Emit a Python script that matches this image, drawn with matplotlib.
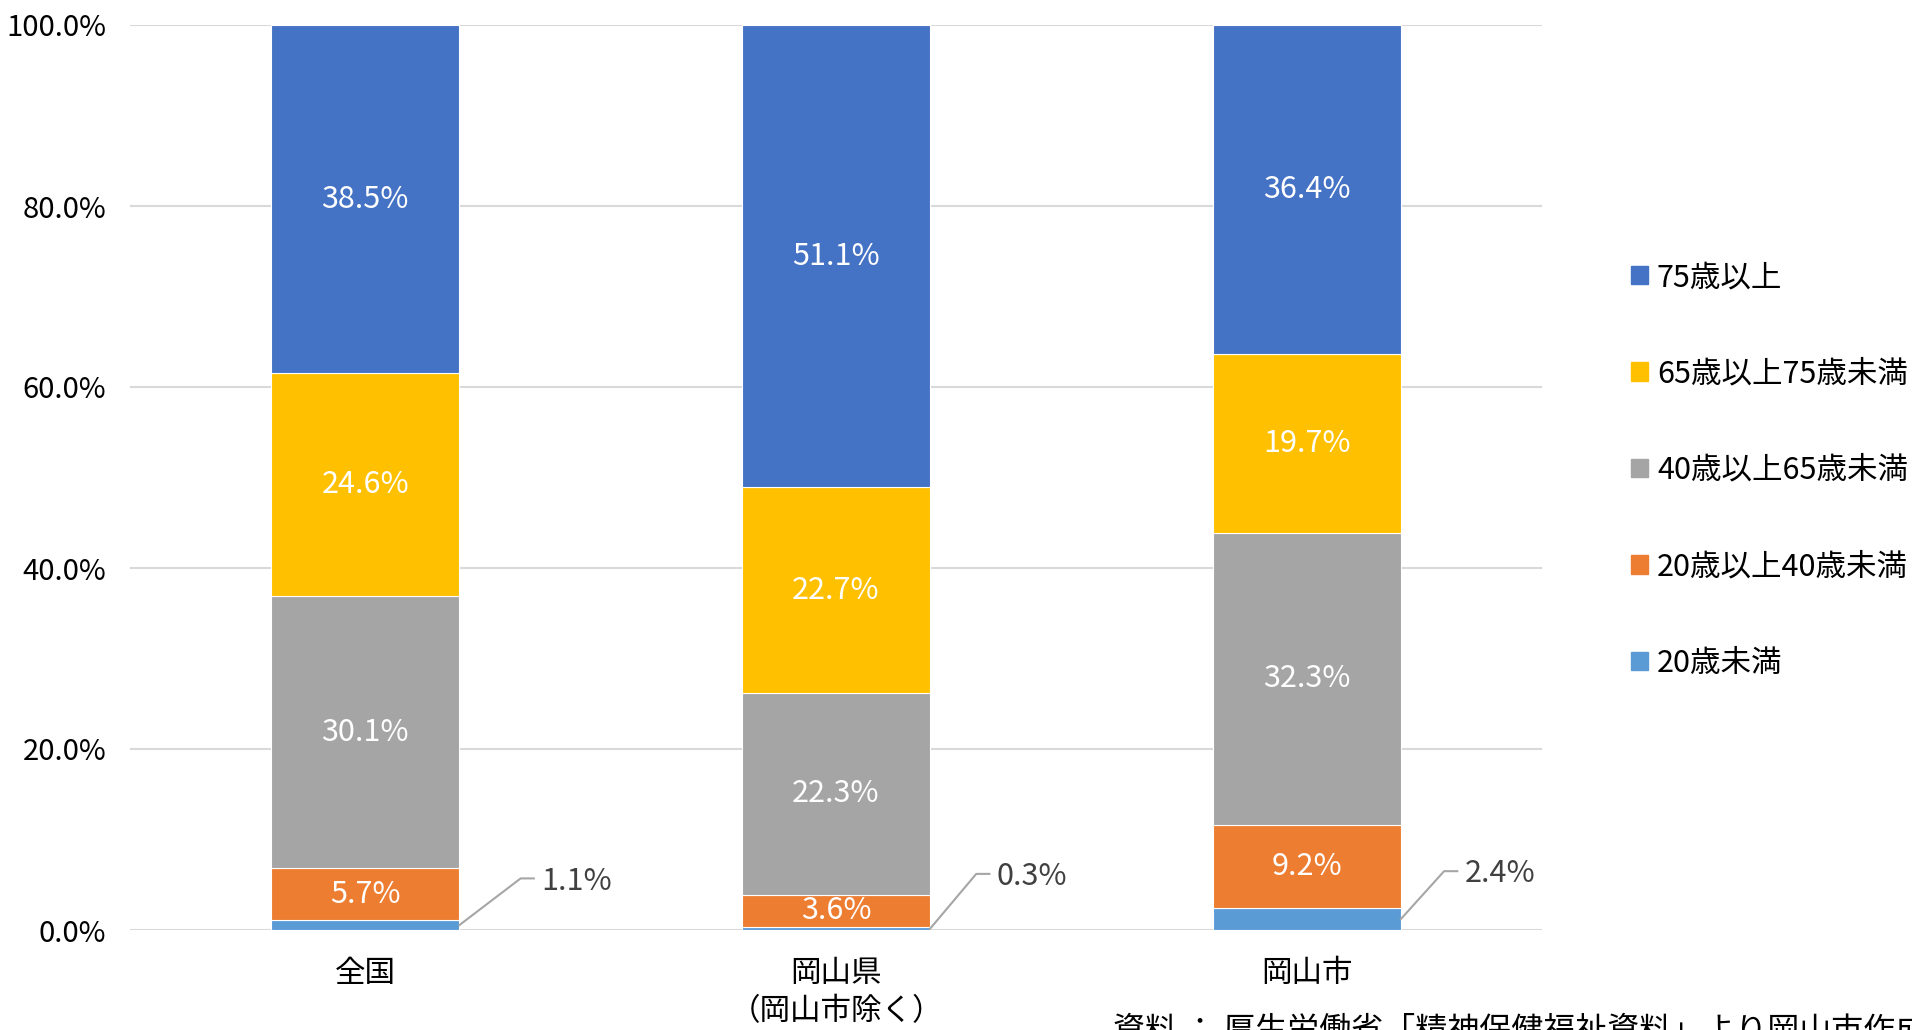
import matplotlib
matplotlib.use('Agg')
from matplotlib import pyplot as plt
from matplotlib import font_manager
from matplotlib.patches import Patch
import numpy as np

# data (percent), stacked from bottom to top
categories = ['全国', '岡山県\n（岡山市除く）', '岡山市']
series_names = ['20歳未満', '20歳以上40歳未満', '40歳以上65歳未満', '65歳以上75歳未満', '75歳以上']
under20 = [1.1, 0.3, 2.4]
age20_40 = [5.7, 3.6, 9.2]
age40_65 = [30.1, 22.3, 32.3]
age65_75 = [24.6, 22.7, 19.7]
age75_over = [38.5, 51.1, 36.4]
yticks = [0, 20, 40, 60, 80, 100]
note = '資料 ： 厚生労働省「精神保健福祉資料」より岡山市作成'

colors = ['#5B9BD5', '#ED7D31', '#A5A5A5', '#FFC000', '#4472C4']

names = {f.name for f in font_manager.fontManager.ttflist}
num_font = 'Liberation Sans Narrow' if 'Liberation Sans Narrow' in names else 'Noto Sans CJK JP'
plt.rcParams['font.family'] = [num_font, 'Noto Sans CJK JP', 'DejaVu Sans']

fig = plt.figure(figsize=(19.12, 10.30), dpi=100)
ax = fig.add_axes([130 / 1912, 1 - 930 / 1030, 1412 / 1912, 905 / 1030])

series = [under20, age20_40, age40_65, age65_75, age75_over]
x = np.arange(len(categories))
w = 0.4
bottom = np.zeros(len(categories))
for i, (vals, col) in enumerate(zip(series, colors)):
    vals = np.array(vals)
    ax.bar(x, vals, w, bottom=bottom, color=col, edgecolor='white', linewidth=0.8, zorder=3)
    # labels inside segments (the smallest series gets callouts instead)
    if i > 0:
        for xi, b, v in zip(x, bottom, vals):
            ax.text(xi, b + v / 2, f'{v:.1f}%', ha='center', va='center',
                    color='white', fontsize=22, zorder=4)
    bottom += vals

# callouts for the 20歳未満 values
elbow_dx = [0.13, 0.098, 0.092]
elbow_y = [5.7, 6.2, 6.5]
for xi, v, dx, ey in zip(x, under20, elbow_dx, elbow_y):
    x0 = xi + w / 2
    ax.plot([x0, x0 + dx, x0 + dx + 0.028], [v / 2, ey, ey], color='#A6A6A6', lw=1.5,
            zorder=4, clip_on=False)
    ax.text(x0 + dx + 0.043, ey - 0.3, f'{v:.1f}%', ha='left', va='center',
            color='#404040', fontsize=22)

ax.set_xlim(-0.5, 2.5)
ax.set_ylim(0, 100)
ax.set_yticks(yticks)
ax.set_yticklabels([f'{t:.1f}%' for t in yticks], fontsize=21)
ax.set_xticks(x)
ax.set_xticklabels(categories, fontsize=22, linespacing=1.3)
ax.tick_params(axis='y', length=0, pad=17)
ax.tick_params(axis='x', length=0, pad=20)
ax.grid(axis='y', color='#D9D9D9', lw=1.5, zorder=0)
for s in ax.spines.values():
    s.set_visible(False)

handles = [Patch(color=c, label=n) for c, n in zip(colors, series_names)][::-1]
fig.legend(handles=handles, loc='upper left', bbox_to_anchor=(1631 / 1912, 1 - 262 / 1030),
           frameon=False, fontsize=22, borderpad=0, borderaxespad=0,
           handlelength=0.55, handleheight=0.55, handletextpad=0.3, labelspacing=2.14)

fig.text(1113 / 1912, 1 - 1015 / 1030, note, fontsize=23, ha='left', va='top')

plt.savefig('out.png', dpi=100)
